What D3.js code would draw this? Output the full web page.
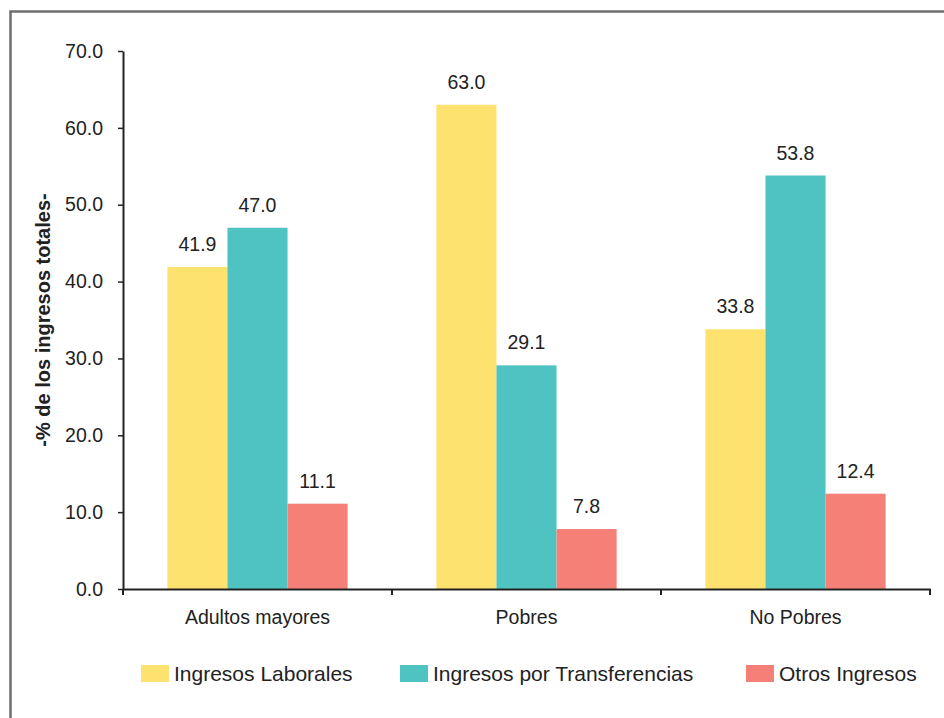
<!DOCTYPE html>
<html>
<head>
<meta charset="utf-8">
<script src="https://cdn.jsdelivr.net/npm/d3@7/dist/d3.min.js"></script>
<style>
  html, body { margin: 0; padding: 0; background: #fff; }
  svg { display: block; font-family: "Liberation Sans", Arial, sans-serif; }
</style>
</head>
<body>
<svg id="chart" width="944" height="718"></svg>
<script>
// Share of total income by source, per population group
const categories = ["Adultos mayores", "Pobres", "No Pobres"];
const seriesNames = ["Ingresos Laborales", "Ingresos por Transferencias", "Otros Ingresos"];
const laborales = [41.9, 63.0, 33.8];
const transferencias = [47.0, 29.1, 53.8];
const otros = [11.1, 7.8, 12.4];
const yTicks = [0, 10, 20, 30, 40, 50, 60, 70];
const yTitle = "-% de los ingresos totales-";

const seriesValues = [laborales, transferencias, otros];
const colors = ["#fee26f", "#4fc3c1", "#f58078"];

const svg = d3.select("#chart");
const W = 944, H = 718;
const plot = { left: 123, right: 930, top: 51, bottom: 589 };

// outer frame
svg.append("rect")
  .attr("x", 10.5).attr("y", 11.5)
  .attr("width", W).attr("height", H)
  .attr("fill", "none").attr("stroke", "#6e6e6e").attr("stroke-width", 2.5);

const x0 = d3.scaleBand().domain(categories).range([plot.left, plot.right]).padding(0);
const groupWidth = x0.bandwidth() * 0.67;
const x1 = d3.scaleBand().domain(seriesNames)
  .range([(x0.bandwidth() - groupWidth) / 2, (x0.bandwidth() + groupWidth) / 2]).padding(0);
const y = d3.scaleLinear().domain([0, 70]).range([plot.bottom, plot.top]);

const rows = [];
categories.forEach((c, ci) => {
  seriesNames.forEach((s, si) => rows.push({ cat: c, series: s, si, value: seriesValues[si][ci] }));
});

// bars
svg.append("g").selectAll("rect").data(rows).join("rect")
  .attr("x", d => x0(d.cat) + x1(d.series))
  .attr("y", d => y(d.value))
  .attr("width", x1.bandwidth())
  .attr("height", d => y(0) - y(d.value))
  .attr("fill", d => colors[d.si]);

// value labels
svg.append("g").selectAll("text").data(rows).join("text")
  .attr("x", d => x0(d.cat) + x1(d.series) + x1.bandwidth() / 2)
  .attr("y", d => y(d.value) - 16)
  .attr("text-anchor", "middle")
  .attr("font-size", 19.5)
  .attr("fill", "#222")
  .text(d => d3.format(".1f")(d.value));

// y axis
const yAxis = svg.append("g")
  .attr("transform", `translate(${plot.left},0)`)
  .call(d3.axisLeft(y).tickValues(yTicks).tickFormat(d3.format(".1f"))
    .tickSize(5).tickSizeOuter(0).tickPadding(15));
yAxis.select(".domain").attr("stroke", "#222").attr("stroke-width", 2);
yAxis.selectAll(".tick line").attr("stroke", "#222").attr("stroke-width", 1.5);
yAxis.selectAll(".tick text").attr("font-size", 19.5).attr("fill", "#222")
  .attr("font-family", "Liberation Sans, Arial, sans-serif");

// x axis with boundary ticks between groups
const xAxis = svg.append("g")
  .attr("transform", `translate(0,${plot.bottom})`)
  .call(d3.axisBottom(x0).tickSize(0).tickSizeOuter(0).tickPadding(21));
xAxis.select(".domain").attr("stroke", "#222").attr("stroke-width", 2);
xAxis.selectAll(".tick text").attr("font-size", 19.5).attr("fill", "#222")
  .attr("font-family", "Liberation Sans, Arial, sans-serif");
const bounds = categories.map(c => x0(c)).concat([x0(categories[categories.length - 1]) + x0.bandwidth()]);
xAxis.selectAll("line.bound").data(bounds).join("line")
  .attr("class", "bound")
  .attr("x1", d => d).attr("x2", d => d)
  .attr("y1", 0).attr("y2", 6)
  .attr("stroke", "#222").attr("stroke-width", 2);

// y axis title
svg.append("text")
  .attr("transform", "translate(50,320) rotate(-90)")
  .attr("text-anchor", "middle")
  .attr("font-size", 20)
  .attr("font-weight", "bold")
  .attr("fill", "#222")
  .text(yTitle);

// legend
const legendX = [141, 400, 746];
const legend = svg.append("g").selectAll("g").data(seriesNames).join("g")
  .attr("transform", (d, i) => `translate(${legendX[i]},665)`);
legend.append("rect")
  .attr("width", 28).attr("height", 17)
  .attr("fill", (d, i) => colors[i]);
legend.append("text")
  .attr("x", 33).attr("y", 16)
  .attr("font-size", 21)
  .attr("fill", "#222")
  .text(d => d);
</script>
</body>
</html>
